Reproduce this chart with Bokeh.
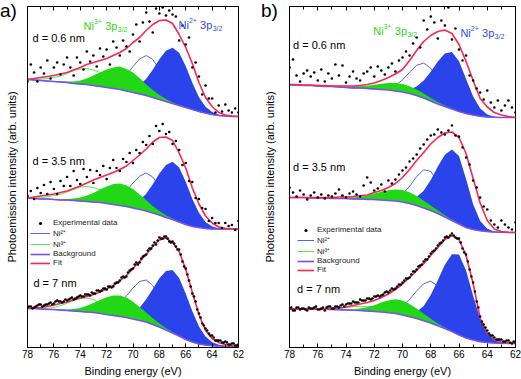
import numpy as np
from bokeh.plotting import figure
from bokeh.layouts import row
from bokeh.models import Range1d, FixedTicker, LinearAxis, Label, Legend, LegendItem, Div
from bokeh.embed import file_html
from bokeh.resources import INLINE

# ---------------------------------------------------------------- data
energy = [78.0, 77.5, 77.0, 76.5, 76.0, 75.5, 75.0, 74.5, 74.0, 73.5, 73.0, 72.5, 72.0,
          71.5, 71.0, 70.5, 70.0, 69.5, 69.0, 68.5, 68.0, 67.5, 67.0, 66.5, 66.0, 65.5,
          65.0, 64.5, 64.0, 63.5, 63.0, 62.5, 62.0]
point_energy = [78.0, 77.75, 77.5, 77.25, 77.0, 76.75, 76.5, 76.25, 76.0, 75.75, 75.5, 75.25,
                75.0, 74.75, 74.5, 74.25, 74.0, 73.75, 73.5, 73.25, 73.0, 72.75, 72.5, 72.25,
                72.0, 71.75, 71.5, 71.25, 71.0, 70.75, 70.5, 70.25, 70.0, 69.75, 69.5, 69.25,
                69.0, 68.75, 68.5, 68.25, 68.0, 67.75, 67.5, 67.25, 67.0, 66.75, 66.5, 66.25,
                66.0, 65.75, 65.5, 65.25, 65.0, 64.75, 64.5, 64.25, 64.0, 63.75, 63.5, 63.25,
                63.0, 62.75, 62.5, 62.25, 62.0]
# intermediate energies of the densely sampled (d = 7 nm) spectra
point_energy_fine = [77.875, 77.625, 77.375, 77.125, 76.875, 76.625, 76.375, 76.125, 75.875,
                     75.625, 75.375, 75.125, 74.875, 74.625, 74.375, 74.125, 73.875, 73.625,
                     73.375, 73.125, 72.875, 72.625, 72.375, 72.125, 71.875, 71.625, 71.375,
                     71.125, 70.875, 70.625, 70.375, 70.125, 69.875, 69.625, 69.375, 69.125,
                     68.875, 68.625, 68.375, 68.125, 67.875, 67.625, 67.375, 67.125, 66.875,
                     66.625, 66.375, 66.125, 65.875, 65.625, 65.375, 65.125, 64.875, 64.625,
                     64.375, 64.125, 63.875, 63.625, 63.375, 63.125, 62.875, 62.625, 62.375,
                     62.125]
x_tick_values = [78, 76, 74, 72, 70, 68, 66, 64, 62]
x_minor_tick_values = [77, 75, 73, 71, 69, 67, 65, 63]
thickness_labels = ["d = 0.6 nm", "d = 3.5 nm", "d = 7 nm"]
legend_labels = ["Experimental data", "Ni\u00b2\u207a", "Ni\u00b3\u207a", "Background", "Fit"]
panel_labels = ["a)", "b)"]
x_title = "Binding energy (eV)"
y_title = "Photoemission intensity (arb. units)"

# ---- panel a), d = 0.6 nm
a1_background = [37, 36.5, 36, 35.5, 35, 34.5, 34, 33, 32.5, 32, 31, 30, 29, 28, 27, 25.5, 24, 22.5,
                 21, 19, 17, 15, 13, 11, 9, 7, 5, 3.5, 2, 1, 0.5, 0, 0]
a1_ni2_3p32 = [0, 0, 0, 0, 0, 0, 0, 0, 0, 0, 0, 0, 0, 0, 0.6, 1.6, 4, 8.8, 16.7, 27.8, 40.2, 50.7,
               55.8, 52.7, 41.2, 26.7, 14.3, 6.3, 2.4, 0.7, 0.2, 0, 0]
a1_ni2_3p12 = [0, 0, 0, 0, 0, 0, 0, 0, 0, 0, 0, 0, 1, 4, 9, 16, 26, 35, 40, 38, 30, 20, 11, 5, 2, 1,
               0, 0, 0, 0, 0, 0, 0]
a1_ni3_3p32 = [0, 0, 0, 0, 0, 0.4, 1, 2, 3.5, 6, 10, 14, 18, 21, 23, 22, 20, 16, 11, 7.5, 4.5, 2.4,
               1.2, 0.5, 0, 0, 0, 0, 0, 0, 0, 0, 0]
a1_ni3_3p12 = [0.4, 0.6, 1.3, 2.4, 4, 6, 9, 13, 15, 16, 15.5, 14, 11, 8, 5, 3, 1.7, 0.8, 0.3, 0, 0,
               0, 0, 0, 0, 0, 0, 0, 0, 0, 0, 0, 0]
a1_fit = [37, 38, 39, 40, 41, 42.5, 44, 46.5, 49, 52, 54, 56, 58, 61, 64, 68, 74, 79, 86, 92, 96,
          96.5, 93, 82, 69, 53, 34, 19, 10, 4, 1.5, 0.5, 0]
a1_points = [35, 52, 44, 35, 49, 43, 56, 38, 49, 54, 42, 52, 59, 49, 41, 59, 54, 47, 65, 55, 61, 50,
             68, 60, 67, 52, 75, 69, 61, 76, 70, 65, 82, 92, 75, 94, 104, 95, 84, 108, 103, 109,
             101, 106, 102, 100, 76, 91, 72, 79, 49, 54, 40, 22, 31, 18, 18, 4, 11, 5, 12, 6, 4, 8, 4]

# ---- panel a), d = 3.5 nm
a2_background = [31, 30.5, 30, 30, 29.5, 29, 29, 28.5, 28, 27.5, 27, 26.5, 25.5, 24.5, 23.5, 22.5,
                 21, 19.5, 18, 16, 14, 11.5, 9.5, 7, 4.5, 2.5, 1.5, 0.5, 0, 0, 0, 0, 0]
a2_ni2_3p32 = [0, 0, 0, 0, 0, 0, 0, 0, 0, 0, 0, 0, 0, 0, 0.6, 1.7, 4.2, 9.1, 17.3, 28.8, 41.6, 52.5,
               57.8, 54.6, 42.7, 27.6, 14.8, 6.6, 2.4, 0.7, 0.2, 0, 0]
a2_ni2_3p12 = [0, 0, 0, 0, 0, 0, 0, 0, 0, 0, 0, 0, 1.3, 3.6, 8, 15.6, 25, 33.5, 38, 36, 28.7, 19, 11,
               5, 2, 0.7, 0, 0, 0, 0, 0, 0, 0]
a2_ni3_3p32 = [0, 0, 0, 0, 0, 0.4, 1, 2, 3.4, 6, 9, 13, 17, 20.5, 22, 21, 19, 15, 11, 7, 4, 2.3, 1.1,
               0.5, 0, 0, 0, 0, 0, 0, 0, 0, 0]
a2_ni3_3p12 = [0.2, 0.6, 1.2, 2.3, 4, 5.5, 8, 11, 14, 15, 14.5, 12.8, 10, 7.4, 4.9, 2.9, 1.6, 0.8,
               0.3, 0, 0, 0, 0, 0, 0, 0, 0, 0, 0, 0, 0, 0, 0]
a2_fit = [31, 32, 33, 34, 35, 36.5, 38, 40.5, 43, 46, 49, 51.5, 54, 56.5, 59.5, 63, 68.5, 74, 80, 87,
          91.5, 92, 88.5, 76, 61, 41, 25, 13, 6, 2, 0.7, 0.2, 0]
a2_points = [33, 38, 30, 41, 36, 44, 35, 47, 40, 35, 48, 43, 52, 43, 58, 49, 45, 60, 52, 59, 46, 58,
             54, 63, 50, 61, 69, 61, 58, 70, 67, 76, 66, 79, 76, 87, 84, 93, 85, 103, 98, 105, 95,
             97, 85, 88, 79, 64, 66, 48, 47, 31, 30, 21, 20, 8, 11, 6, 6, 1, 6, 3, 4, -1, 8]

# ---- panel a), d = 7 nm
a3_background = [38, 38, 37.5, 37, 37, 36.5, 36, 35.5, 35, 34.5, 34, 33, 32, 31, 30, 29, 27.5, 26,
                 24.5, 22, 19.5, 16.5, 13.5, 10.5, 7, 4.5, 2.5, 1.5, 0.8, 0.4, 0.2, 0, 0]
a3_ni2_3p32 = [0, 0, 0, 0, 0, 0, 0, 0, 0, 0, 0, 0, 0, 0.4, 1.1, 2.8, 6.4, 12.8, 22.7, 35.5, 48.8,
               59.1, 63, 58.1, 45.7, 30.7, 17.5, 8.5, 3.5, 1.3, 0.4, 0, 0]
a3_ni2_3p12 = [0, 0, 0, 0, 0, 0, 0, 0, 0, 0, 0.4, 1.1, 2.9, 6.6, 12.9, 21.6, 31, 39, 42, 39, 31, 21.6,
               12.9, 6.6, 2.9, 1.1, 0.4, 0, 0, 0, 0, 0, 0]
a3_ni3_3p32 = [0, 0, 0, 0, 0, 0.4, 0.9, 1.9, 3.6, 6.2, 9.6, 13.5, 17.3, 20, 21, 20, 17.3, 13.5, 9.6,
               6.2, 3.6, 1.9, 0.9, 0.4, 0, 0, 0, 0, 0, 0, 0, 0, 0]
a3_ni3_3p12 = [0, 0, 0.4, 1, 2.2, 4.3, 7.2, 10.4, 13, 14, 13, 10.4, 7.2, 4.3, 2.2, 1, 0.4, 0, 0, 0, 0,
               0, 0, 0, 0, 0, 0, 0, 0, 0, 0, 0, 0]
a3_fit = [38, 38.5, 39, 40, 41.5, 43, 44.5, 46.5, 48.5, 50, 52, 54.5, 57.5, 61, 65.5, 71, 78, 85, 92,
          100, 106.5, 108.5, 104, 95, 77, 54, 32, 16, 8, 4, 2, 0.8, 0]
a3_points = [39, 40, 39, 41, 42, 41, 42, 44, 43, 46, 45, 45, 46, 48, 47, 49, 51, 50, 52, 51, 53, 56,
             55, 58, 57, 60, 60, 64, 66, 70, 70, 76, 78, 84, 84, 90, 92, 98, 101, 102, 109, 108,
             110, 105, 105, 100, 97, 85, 78, 66, 53, 45, 33, 23, 18, 13, 11, 6, 6, 4, 5, 2, 3, 1, 2]
a3_points_fine = [40, 38, 40, 42, 40, 42, 43, 42, 45, 45, 44, 47, 47, 49, 48, 50, 50, 52, 52, 54, 53,
                  56, 56, 58, 60, 59, 63, 64, 69, 69, 74, 77, 82, 82, 88, 91, 96, 98, 104, 106, 108,
                  110, 108, 104, 103, 97, 92, 80, 72, 60, 50, 37, 29, 21, 16, 11, 9, 6, 6, 4, 4, 2,
                  3, 1]

# ---- panel b), d = 0.6 nm
b1_background = [32.5, 32.5, 32, 32, 31.5, 31, 31, 30.5, 30, 29.5, 29.5, 29, 28.5, 28, 27.5, 26.5,
                 25.5, 24, 22, 19.5, 16.5, 13.5, 11, 8.5, 6, 4, 2.5, 1.3, 0.6, 0.2, 0, 0, 0]
b1_ni2_3p32 = [0, 0, 0, 0, 0, 0, 0, 0, 0, 0, 0, 0, 0, 0, 0, 0.5, 1.5, 4, 8.9, 17.4, 29.3, 42.4, 53,
               57, 50.3, 34.6, 18.5, 7.7, 2.5, 0.6, 0, 0, 0]
b1_ni2_3p12 = [0, 0, 0, 0, 0, 0, 0, 0, 0, 0, 0, 0, 0, 0.7, 2.1, 5.7, 12.1, 21.2, 30.2, 34.9, 32.8,
               25.1, 15.6, 7.9, 3.3, 1.1, 0.3, 0, 0, 0, 0, 0, 0]
b1_ni3_3p32 = [0, 0, 0, 0, 0, 0, 0, 0.2, 0.5, 1, 1.7, 2.8, 4.2, 5.8, 7.1, 7.9, 7.9, 7.3, 6, 4.6, 3.1,
               1.9, 1.1, 0.6, 0.3, 0, 0, 0, 0, 0, 0, 0, 0]
b1_ni3_3p12 = [0, 0, 0, 0, 0.15, 0.3, 0.55, 0.85, 1.2, 1.6, 1.85, 2, 1.95, 1.7, 1.35, 1, 0.65, 0.4,
               0.2, 0, 0, 0, 0, 0, 0, 0, 0, 0, 0, 0, 0, 0, 0]
b1_fit = [33, 33, 32.5, 32.5, 32, 32, 31.5, 31.5, 31.5, 31.5, 32, 33, 34.5, 37, 40, 43.5, 48, 57, 67,
          76, 82, 86, 87.5, 84, 73, 56, 37, 19, 10.5, 5, 2.5, 1, 0]
b1_points = [50, 58, 42, 36, 44, 47, 41, 45, 37, 48, 36, 44, 39, 53, 42, 52, 35, 41, 46, 39, 37, 44,
             46, 50, 41, 51, 47, 43, 50, 54, 46, 57, 60, 66, 62, 74, 80, 70, 97, 88, 101, 95, 79,
             97, 92, 110, 78, 89, 68, 57, 62, 42, 37, 29, 25, 18, 27, 15, 10, 17, 7, 12, 17, 10, 5]

# ---- panel b), d = 3.5 nm
b2_background = [35, 35, 35, 34.5, 34.5, 34.5, 34, 34, 34, 33.5, 33.5, 33, 33, 32.5, 32, 31.5, 30.5,
                 29, 27, 24.5, 22, 19, 15.5, 12, 8.5, 5, 3, 1.8, 1, 0.5, 0.2, 0, 0]
b2_ni2_3p32 = [0, 0, 0, 0, 0, 0, 0, 0, 0, 0, 0, 0, 0, 0, 0, 0, 1.2, 3.5, 8.4, 17.2, 30.6, 47, 62.3,
               71.1, 68.1, 48.5, 25.3, 9.7, 2.7, 0.6, 0, 0, 0]
b2_ni2_3p12 = [0, 0, 0, 0, 0, 0, 0, 0, 0, 0, 0, 0, 0, 0.2, 0.8, 2.8, 7.9, 17.2, 29, 38.2, 39.2, 31.3,
               19.5, 9.4, 3.6, 1, 0.2, 0, 0, 0, 0, 0, 0]
b2_ni3_3p32 = [0, 0, 0, 0, 0, 0, 0, 0.3, 0.6, 1.3, 2.3, 3.9, 5.9, 8.2, 10.2, 11.6, 12, 11.2, 9.5, 7.3,
               5.1, 3.2, 1.8, 1, 0.5, 0.2, 0, 0, 0, 0, 0, 0, 0]
b2_ni3_3p12 = [0, 0, 0, 0, 0.14, 0.27, 0.48, 0.8, 1.15, 1.5, 1.8, 1.98, 1.97, 1.77, 1.45, 1.05, 0.7,
               0.43, 0.24, 0.12, 0, 0, 0, 0, 0, 0, 0, 0, 0, 0, 0, 0, 0]
b2_fit = [35, 35, 35, 35, 35, 35, 35, 35.5, 35.5, 36, 36.7, 37.5, 40, 42, 45, 49, 55, 63, 72, 80, 88.5,
          95, 99.5, 100.5, 95, 79, 54, 29.5, 12, 3.4, 1, 0.3, 0]
b2_points = [45, 40, 36, 42, 38, 33, 37, 40, 35, 38, 34, 37, 36, 39, 43, 37, 35, 39, 41, 38, 36, 47,
             55, 50, 42, 44, 48, 41, 52, 49, 53, 58, 62, 65, 71, 74, 78, 84, 88, 93, 97, 98, 103,
             100, 98, 102, 107, 97, 96, 85, 75, 68, 52, 45, 35, 26, 23, 12, 8, 5, 12, 8, 5, 3, 10]

# ---- panel b), d = 7 nm
b3_background = [34.5, 34.5, 34.5, 34.3, 34.2, 34, 34, 33.8, 33.5, 33.2, 33, 32.5, 32, 31.5, 30.8, 30,
                 28.5, 26.8, 25, 22.8, 20.5, 17.8, 15, 12, 8.5, 5.5, 3.5, 1.8, 1, 0.5, 0.2, 0, 0]
b3_ni2_3p32 = [0, 0, 0, 0, 0, 0, 0, 0, 0, 0, 0, 0, 0, 0, 0, 0, 0.9, 2.7, 6.7, 14.7, 27.9, 45.4, 63.7,
               77.3, 80.6, 67.6, 44.2, 22.5, 8.9, 2.8, 0.6, 0, 0]
b3_ni2_3p12 = [0, 0, 0, 0, 0, 0, 0, 0, 0, 0, 0, 0, 0, 0.5, 1.5, 4, 9.1, 17.3, 27.6, 37, 41.9, 39.7,
               31.7, 21.3, 12, 5.7, 2.3, 0.8, 0, 0, 0, 0, 0]
b3_ni3_3p32 = [0, 0, 0, 0, 0, 0, 0, 0.1, 0.4, 0.9, 2, 3.8, 6.3, 9.4, 12.3, 14.2, 14.4, 12.8, 10, 6.9,
               4.2, 2.3, 1.1, 0.4, 0.2, 0, 0, 0, 0, 0, 0, 0, 0]
b3_ni3_3p12 = [0, 0, 0, 0, 0.2, 0.4, 0.8, 1.4, 2.3, 3.7, 4.3, 4.5, 4.3, 3.7, 2.9, 2, 1.3, 0.8, 0.4,
               0.2, 0, 0, 0, 0, 0, 0, 0, 0, 0, 0, 0, 0, 0]
b3_fit = [34.5, 34.5, 34.5, 34.5, 34.5, 34.5, 35, 35.5, 36.5, 38, 39.5, 41, 43, 46, 49.5, 54, 59.5, 66,
          73, 80, 88, 96, 104, 108, 104, 88, 60, 25, 10.5, 4, 1.5, 0.5, 0]
b3_points = [35, 33, 36, 34, 35, 33, 35, 36, 34, 35, 33, 37, 35, 37, 36, 39, 39, 40, 42, 41, 44, 43,
             45, 44, 47, 48, 48, 51, 51, 55, 55, 59, 61, 65, 66, 72, 74, 78, 82, 84, 90, 93, 98, 101,
             106, 106, 110, 106, 105, 95, 89, 74, 61, 42, 27, 19, 13, 8, 6, 4, 4, 2, 3, 0, 1]
b3_points_fine = [36, 33, 36, 35, 34, 36, 35, 37, 34, 36, 36, 37, 35, 37, 38, 37, 40, 40, 41, 41, 43,
                  43, 45, 45, 47, 47, 49, 52, 53, 54, 57, 59, 63, 65, 69, 72, 77, 79, 84, 87, 92, 95,
                  100, 103, 107, 108, 108, 105, 101, 91, 82, 67, 52, 36, 22, 16, 10, 8, 4, 4, 2, 3,
                  1, 2]

# ---------------------------------------------------------------- styling
FONT = "Liberation Sans"
BLUE_FILL = "#2a43ea"
GREEN_FILL = "#22d814"
THIN_BLUE = "#5567cc"
THIN_GREEN = "#4cee4c"
BG_COLOR = "#7a4ff0"
FIT_COLOR = "#ff2456"
HEIGHT = 379
Y_TOP = 341


def spectrum(bg, n2m, n2s, n3m, n3s, fit, pts, fine=None):
    return dict(background=bg, ni2_main=n2m, ni2_second=n2s, ni3_main=n3m, ni3_second=n3s,
                fit=fit, points=pts, fine=fine)


panel_a = [spectrum(a1_background, a1_ni2_3p32, a1_ni2_3p12, a1_ni3_3p32, a1_ni3_3p12, a1_fit, a1_points),
           spectrum(a2_background, a2_ni2_3p32, a2_ni2_3p12, a2_ni3_3p32, a2_ni3_3p12, a2_fit, a2_points),
           spectrum(a3_background, a3_ni2_3p32, a3_ni2_3p12, a3_ni3_3p32, a3_ni3_3p12, a3_fit, a3_points,
                    a3_points_fine)]
panel_b = [spectrum(b1_background, b1_ni2_3p32, b1_ni2_3p12, b1_ni3_3p32, b1_ni3_3p12, b1_fit, b1_points),
           spectrum(b2_background, b2_ni2_3p32, b2_ni2_3p12, b2_ni3_3p32, b2_ni3_3p12, b2_fit, b2_points),
           spectrum(b3_background, b3_ni2_3p32, b3_ni2_3p12, b3_ni3_3p32, b3_ni3_3p12, b3_fit, b3_points,
                    b3_points_fine)]


def species_label(p, x, y, charge, color):
    parts = [("Ni", 0, 0, "11px"), (charge, 10.4, 4, "7px"), ("3p", 21.6, 0, "11px"),
             ("3/2", 34.2, -3.5, "7px")]
    for txt, dx, dy, size in parts:
        p.add_layout(Label(x=x, y=y, x_offset=dx, y_offset=dy, text=txt, text_font=FONT,
                           text_font_size=size, text_color=color, text_baseline="middle",
                           text_align="left"))


def build_panel(spectra, offsets, width, border_left, border_right, ylabel_standoff,
                d_spots, green_spot, blue_spot, legend_loc, legend_glyph_w):
    p = figure(width=width, height=HEIGHT, x_range=Range1d(78, 62), y_range=Range1d(0, Y_TOP),
               output_backend="svg", toolbar_location=None, min_border_left=border_left,
               min_border_right=border_right, min_border_top=6, min_border_bottom=32)
    p.xgrid.visible = False
    p.ygrid.visible = False
    p.outline_line_color = "black"
    p.outline_line_width = 1
    p.background_fill_color = "white"
    p.border_fill_color = "white"

    xa = p.xaxis[0]
    xa.ticker = FixedTicker(ticks=x_tick_values, minor_ticks=x_minor_tick_values)
    xa.major_tick_in = 4
    xa.major_tick_out = 0
    xa.minor_tick_in = 3
    xa.minor_tick_out = 0
    xa.major_label_text_font = FONT
    xa.major_label_text_font_size = "10px"
    xa.major_label_text_color = "black"
    xa.major_label_standoff = 2
    xa.axis_label = x_title
    xa.axis_label_text_font = FONT
    xa.axis_label_text_font_size = "11px"
    xa.axis_label_text_font_style = "normal"
    xa.axis_label_text_color = "black"
    xa.axis_label_standoff = 4
    xa.axis_line_color = "black"

    top = LinearAxis(ticker=FixedTicker(ticks=x_tick_values, minor_ticks=x_minor_tick_values),
                     major_tick_in=4, major_tick_out=0, minor_tick_in=3, minor_tick_out=0,
                     major_label_text_color=None, major_label_text_font_size="1px",
                     major_label_standoff=0, axis_line_color="black")
    p.add_layout(top, "above")

    ya = p.yaxis[0]
    ya.ticker = FixedTicker(ticks=[])
    ya.major_tick_in = 0
    ya.major_tick_out = 0
    ya.minor_tick_in = 0
    ya.minor_tick_out = 0
    ya.major_label_text_color = None
    ya.major_label_text_font_size = "1px"
    ya.major_label_standoff = 0
    ya.axis_label = y_title
    ya.axis_label_text_font = FONT
    ya.axis_label_text_font_size = "11px"
    ya.axis_label_text_font_style = "normal"
    ya.axis_label_text_color = "black"
    ya.axis_label_standoff = ylabel_standoff
    ya.axis_line_color = "black"

    for s, off in zip(spectra, offsets):
        base = off + np.asarray(s["background"], dtype=float)
        r_n2 = p.line(energy, base + np.asarray(s["ni2_second"], dtype=float),
                      line_color=THIN_BLUE, line_width=1)
        r_n3 = p.line(energy, base + np.asarray(s["ni3_second"], dtype=float),
                      line_color=THIN_GREEN, line_width=1)
        p.varea(x=energy, y1=base, y2=base + np.asarray(s["ni2_main"], dtype=float),
                fill_color=BLUE_FILL)
        p.varea(x=energy, y1=base, y2=base + np.asarray(s["ni3_main"], dtype=float),
                fill_color=GREEN_FILL)
        r_bg = p.line(energy, base, line_color=BG_COLOR, line_width=1.6)
        r_fit = p.line(energy, off + np.asarray(s["fit"], dtype=float), line_color=FIT_COLOR,
                       line_width=1.6)
        r_pts = p.scatter(point_energy, off + np.asarray(s["points"], dtype=float), marker="circle",
                          size=2.6, fill_color="black", line_color=None)
        if s["fine"] is not None:
            p.scatter(point_energy_fine, off + np.asarray(s["fine"], dtype=float), marker="circle",
                      size=2.6, fill_color="black", line_color=None)

    legend = Legend(items=[LegendItem(label=legend_labels[0], renderers=[r_pts]),
                           LegendItem(label=legend_labels[1], renderers=[r_n2]),
                           LegendItem(label=legend_labels[2], renderers=[r_n3]),
                           LegendItem(label=legend_labels[3], renderers=[r_bg]),
                           LegendItem(label=legend_labels[4], renderers=[r_fit])],
                    location=legend_loc, label_text_font=FONT, label_text_font_size="8px",
                    label_text_color="#222222", glyph_width=legend_glyph_w, glyph_height=8,
                    label_height=8, label_standoff=3, spacing=0, padding=0, margin=0,
                    border_line_color=None, background_fill_alpha=0)
    p.add_layout(legend)

    for (x, y), txt in zip(d_spots, thickness_labels):
        p.add_layout(Label(x=x, y=y, text=txt, text_font=FONT, text_font_size="11px",
                           text_color="black", text_baseline="middle", text_align="left"))
    species_label(p, green_spot[0], green_spot[1], "3+", "#2fd614")
    species_label(p, blue_spot[0], blue_spot[1], "2+", "#3049ee")
    return p


def panel_tag(text, left_px):
    return Div(text=text, width=20, height=22,
               styles={"position": "absolute", "left": f"{left_px}px", "top": "1px",
                       "font-family": FONT, "font-size": "19px", "line-height": "20px",
                       "color": "black", "z-index": "10", "margin": "0", "padding": "0"})


p_a = build_panel(panel_a, [231, 118.5, 1], width=255, border_left=27, border_right=17,
                  ylabel_standoff=10,
                  d_spots=[(77.62, 310), (77.62, 187), (77.55, 65)],
                  green_spot=(73.75, 322), blue_spot=(66.55, 323),
                  legend_loc=(3, 80), legend_glyph_w=20)
p_b = build_panel(panel_b, [230, 115, 4], width=266, border_left=34, border_right=6,
                  ylabel_standoff=14,
                  d_spots=[(77.75, 303), (77.75, 181), (77.47, 59)],
                  green_spot=(72.07, 317), blue_spot=(65.9, 315),
                  legend_loc=(8, 73), legend_glyph_w=17)

layout = row(p_a, p_b, panel_tag(panel_labels[0], 0), panel_tag(panel_labels[1], 261))
open("out.html", "w").write(file_html(layout, INLINE))
